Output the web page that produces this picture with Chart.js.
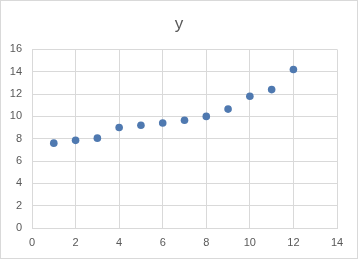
<!DOCTYPE html>
<html>
<head>
<meta charset="utf-8">
<script src="https://cdn.jsdelivr.net/npm/chart.js@4"></script>
<style>
  body { margin: 0; background: #fff; }
  #grafico { display: block; }
</style>
</head>
<body>
<canvas id="grafico" width="358" height="259"></canvas>
<script>
// Datos
const titulo = 'y';
const valoresX = [1, 2, 3, 4, 5, 6, 7, 8, 9, 10, 11, 12];
const valoresY = [7.6, 7.85, 8.05, 9.0, 9.2, 9.4, 9.65, 10.0, 10.65, 11.8, 12.4, 14.2];
const ejeX = { min: 0, max: 14, paso: 2 };
const ejeY = { min: 0, max: 16, paso: 2 };

const puntos = valoresX.map((x, i) => ({ x: x, y: valoresY[i] }));

const gris = '#595959';
const lineaGrilla = '#d9d9d9';

// borde del grafico, estilo excel
const borde = {
  id: 'borde',
  beforeDraw(chart) {
    const ctx = chart.ctx;
    ctx.save();
    ctx.fillStyle = '#fff';
    ctx.fillRect(0, 0, chart.width, chart.height);
    ctx.strokeStyle = '#d9d9d9';
    ctx.lineWidth = 1;
    ctx.strokeRect(0.5, 0.5, chart.width - 1, chart.height - 1);
    ctx.restore();
  }
};

const config = {
  type: 'scatter',
  data: {
    datasets: [{
      label: titulo,
      data: puntos,
      backgroundColor: '#4f79b0',
      borderWidth: 0,
      pointRadius: 3.8,
      pointHoverRadius: 3.8
    }]
  },
  options: {
    responsive: false,
    animation: false,
    layout: { padding: 0 },
    plugins: {
      legend: { display: false },
      tooltip: { enabled: false },
      title: {
        display: true,
        text: titulo,
        color: gris,
        font: { family: 'Liberation Sans', size: 17, weight: 'normal' },
        padding: { top: 14, bottom: 15 }
      }
    },
    scales: {
      x: {
        type: 'linear',
        min: ejeX.min,
        max: ejeX.max,
        ticks: {
          stepSize: ejeX.paso,
          color: gris,
          font: { family: 'Liberation Sans', size: 11 },
          padding: 8
        },
        grid: { color: lineaGrilla, drawTicks: false },
        border: { color: lineaGrilla },
        afterFit(scale) { scale.height = 31; }
      },
      y: {
        min: ejeY.min,
        max: ejeY.max,
        ticks: {
          stepSize: ejeY.paso,
          color: gris,
          font: { family: 'Liberation Sans', size: 11 },
          padding: 10
        },
        grid: { color: lineaGrilla, drawTicks: false },
        border: { color: lineaGrilla },
        afterFit(scale) { scale.width = 32; }
      },
      // eje vacio a la derecha, solo para dejar el margen
      margen: {
        position: 'right',
        min: ejeY.min,
        max: ejeY.max,
        ticks: { display: false },
        grid: { display: false, drawTicks: false },
        border: { display: false },
        afterFit(scale) { scale.width = 21; }
      }
    }
  },
  plugins: [borde]
};

window.miGrafico = new Chart(document.getElementById('grafico'), config);
</script>
</body>
</html>
